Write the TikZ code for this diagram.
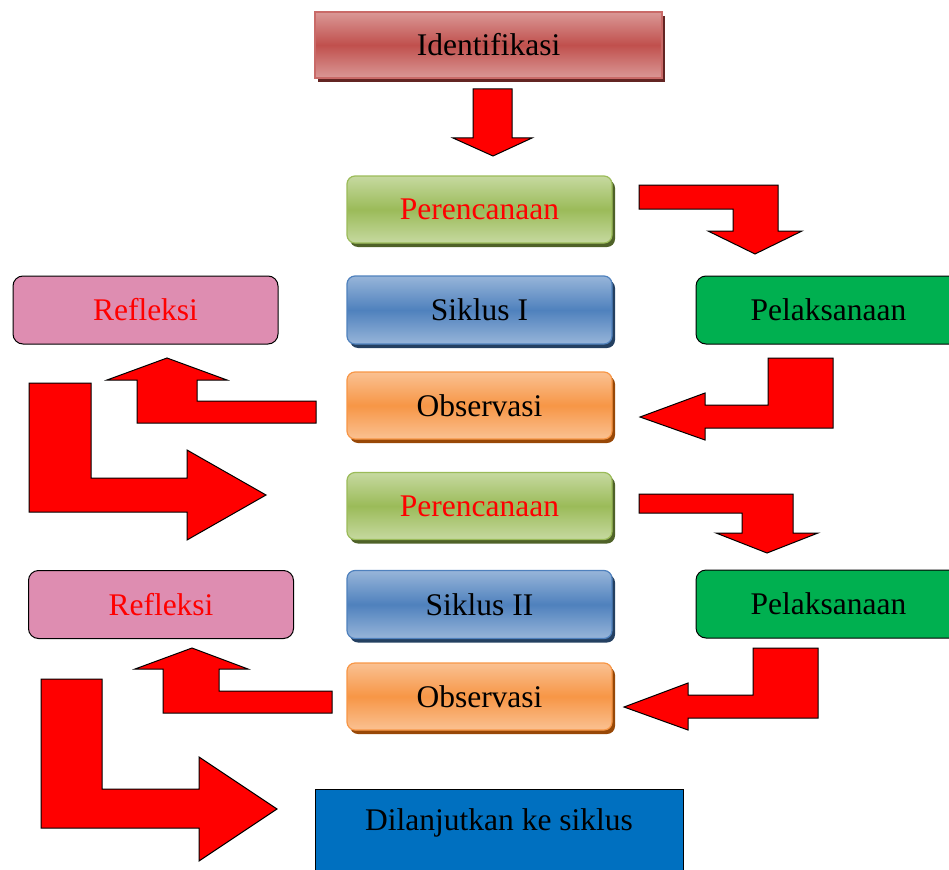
\documentclass[tikz,border=0pt]{standalone}
\usepackage{fontspec}
\setmainfont{Liberation Serif}
\usetikzlibrary{shadows}

\definecolor{idbase}{HTML}{C0504D}
\definecolor{idlight}{HTML}{DA9896}
\definecolor{idshadow}{HTML}{632523}
\definecolor{planbase}{HTML}{9BBB59}
\definecolor{planlight}{HTML}{C6D9A0}
\definecolor{planshadow}{HTML}{4F6228}
\definecolor{cyclebase}{HTML}{4F81BD}
\definecolor{cyclelight}{HTML}{97B5D9}
\definecolor{cycleshadow}{HTML}{244061}
\definecolor{obsbase}{HTML}{F79646}
\definecolor{obslight}{HTML}{FAC192}
\definecolor{obsshadow}{HTML}{984807}
\definecolor{reflpink}{HTML}{DE8DB1}
\definecolor{actgreen}{HTML}{00B050}
\definecolor{nextblue}{HTML}{0070C0}

\tikzstyle{titlebox} = [rectangle, minimum width=347pt, minimum height=66pt, line width=1.2pt, draw=idbase!85!white, top color=idlight, bottom color=idlight, middle color=idbase, general shadow={fill=idshadow, shadow xshift=3pt, shadow yshift=-4pt}]
\tikzstyle{planbox} = [rectangle, rounded corners=8pt, minimum width=265pt, minimum height=67pt, line width=1.2pt, draw=planbase, top color=planlight, bottom color=planlight, middle color=planbase, text=red, general shadow={fill=planshadow, shadow xshift=3pt, shadow yshift=-4pt}]
\tikzstyle{cyclebox} = [rectangle, rounded corners=8pt, minimum width=265pt, minimum height=68pt, line width=1.2pt, draw=cyclebase, top color=cyclelight, bottom color=cyclelight, middle color=cyclebase, general shadow={fill=cycleshadow, shadow xshift=3pt, shadow yshift=-4pt}]
\tikzstyle{obsbox} = [rectangle, rounded corners=8pt, minimum width=265pt, minimum height=67pt, line width=1.2pt, draw=obsbase, top color=obslight, bottom color=obslight, middle color=obsbase, general shadow={fill=obsshadow, shadow xshift=3pt, shadow yshift=-4pt}]
\tikzstyle{reflbox} = [rectangle, rounded corners=10pt, minimum width=265pt, minimum height=68pt, line width=1pt, draw=black, fill=reflpink, text=red]
\tikzstyle{actbox} = [rectangle, rounded corners=10pt, minimum width=265pt, minimum height=68pt, line width=1pt, draw=black, fill=actgreen]
\tikzstyle{nextbox} = [rectangle, minimum width=368pt, minimum height=100pt, text height=22pt, text depth=40pt, line width=1pt, draw=black, fill=nextblue]
\tikzstyle{blockarrow} = [fill=red, draw=black, line width=1pt, line join=miter]

\begin{document}
\begin{tikzpicture}[x=1pt, y=-1pt, font=\fontsize{31.5}{36}\selectfont]
  \useasboundingbox (0,0) rectangle (949,869);

  % Top
  \node (ident) at (488.5,45) [titlebox] {Identifikasi};

  % Cycle I
  \node (plan1) at (479.5,209.5) [planbox] {Perencanaan};
  \node (cycle1) at (479.5,310) [cyclebox] {Siklus I};
  \node (obs1) at (479.5,405.5) [obsbox] {Observasi};
  \node (refl1) at (145.5,310) [reflbox] {Refleksi};
  \node (act1) at (828.5,310) [actbox] {Pelaksanaan};

  % Cycle II
  \node (plan2) at (479.5,506) [planbox] {Perencanaan};
  \node (cycle2) at (479.5,604.5) [cyclebox] {Siklus II};
  \node (obs2) at (479.5,696.5) [obsbox] {Observasi};
  \node (refl2) at (161,604.5) [reflbox] {Refleksi};
  \node (act2) at (828.5,604) [actbox] {Pelaksanaan};

  % Bottom
  \node (next) at (499,839) [nextbox] {Dilanjutkan ke siklus};

  % Block arrows, cycle I
  \draw[blockarrow] (473,89) -- (512,89) -- (512,138) -- (532,138) -- (493,156) -- (453,138) -- (473,138) -- cycle;
  \draw[blockarrow] (639,185) -- (778,185) -- (778,231) -- (802,231) -- (755,254) -- (708,231) -- (733,231) -- (733,209) -- (639,209) -- cycle;
  \draw[blockarrow] (768,358) -- (833,358) -- (833,428) -- (705,428) -- (705,440) -- (640,417) -- (705,393) -- (705,405) -- (768,405) -- cycle;
  \draw[blockarrow] (316,401) -- (316,423) -- (137,423) -- (137,380) -- (107,380) -- (167,358) -- (227,380) -- (197,380) -- (197,401) -- cycle;
  \draw[blockarrow] (29,383) -- (91,383) -- (91,478) -- (187,478) -- (187,450) -- (266,495) -- (187,540) -- (187,512) -- (29,512) -- cycle;

  % Block arrows, cycle II
  \draw[blockarrow] (639,494) -- (793,494) -- (793,533) -- (818,533) -- (767,553) -- (716,533) -- (742,533) -- (742,513) -- (639,513) -- cycle;
  \draw[blockarrow] (753,648) -- (818,648) -- (818,718) -- (688,718) -- (688,730) -- (624,707) -- (688,683) -- (688,695) -- (753,695) -- cycle;
  \draw[blockarrow] (332,691) -- (332,713) -- (163,713) -- (163,669) -- (135,669) -- (192,648) -- (248,669) -- (219,669) -- (219,691) -- cycle;
  \draw[blockarrow] (41,679) -- (102,679) -- (102,789) -- (199,789) -- (199,757) -- (277,809) -- (199,861) -- (199,828) -- (41,828) -- cycle;

\end{tikzpicture}
\end{document}
